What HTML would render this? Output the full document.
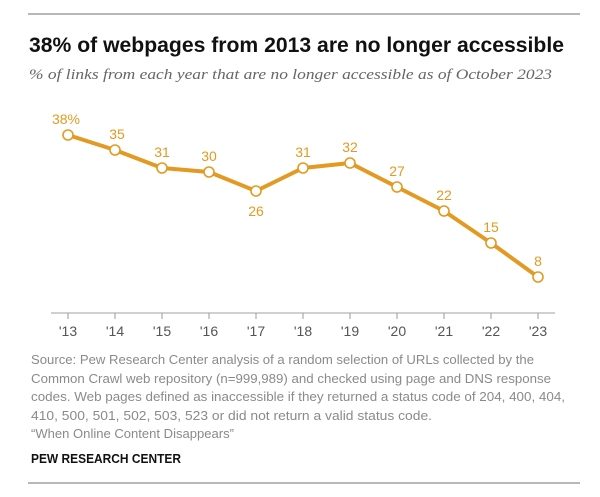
<!DOCTYPE html>
<html><head><meta charset="utf-8"><style>
html,body{margin:0;padding:0;background:#fff;}
svg{display:block;}
</style></head><body>
<svg width="600" height="497" viewBox="0 0 600 497" xmlns="http://www.w3.org/2000/svg">
<rect width="600" height="497" fill="#fff"/>
<line x1="28" y1="14" x2="580" y2="14" stroke="#a0a0a0" stroke-width="1.5"/>
<text x="29" y="52" font-family="Liberation Sans, sans-serif" font-weight="bold" font-size="21" fill="#111" textLength="535" lengthAdjust="spacingAndGlyphs">38% of webpages from 2013 are no longer accessible</text>
<text x="29" y="79" font-family="Liberation Serif, serif" font-style="italic" font-size="15" fill="#666" textLength="523" lengthAdjust="spacingAndGlyphs">% of links from each year that are no longer accessible as of October 2023</text>
<line x1="51" y1="313" x2="555" y2="313" stroke="#b5b5b5" stroke-width="1.2"/>
<g stroke="#999" stroke-width="1">
<line x1="68" y1="313" x2="68" y2="319"/><line x1="115" y1="313" x2="115" y2="319"/><line x1="162" y1="313" x2="162" y2="319"/><line x1="209" y1="313" x2="209" y2="319"/><line x1="256" y1="313" x2="256" y2="319"/><line x1="303" y1="313" x2="303" y2="319"/><line x1="350" y1="313" x2="350" y2="319"/><line x1="397" y1="313" x2="397" y2="319"/><line x1="444" y1="313" x2="444" y2="319"/><line x1="491" y1="313" x2="491" y2="319"/><line x1="538" y1="313" x2="538" y2="319"/>
</g>
<g font-family="Liberation Sans, sans-serif" font-size="14" fill="#555" text-anchor="middle">
<text x="68" y="336">'13</text><text x="115" y="336">'14</text><text x="162" y="336">'15</text><text x="209" y="336">'16</text><text x="256" y="336">'17</text><text x="303" y="336">'18</text><text x="350" y="336">'19</text><text x="397" y="336">'20</text><text x="444" y="336">'21</text><text x="491" y="336">'22</text><text x="538" y="336">'23</text>
</g>
<polyline points="68,135 115,150 162,168 209,172 256,191 303,168 350,163 397,187 444,211 491,243 538,277" fill="none" stroke="#e29a22" stroke-width="4" stroke-linejoin="round"/>
<g fill="#fff" stroke="#e29a22" stroke-width="1.6">
<circle cx="68" cy="135" r="5"/><circle cx="115" cy="150" r="5"/><circle cx="162" cy="168" r="5"/><circle cx="209" cy="172" r="5"/><circle cx="256" cy="191" r="5"/><circle cx="303" cy="168" r="5"/><circle cx="350" cy="163" r="5"/><circle cx="397" cy="187" r="5"/><circle cx="444" cy="211" r="5"/><circle cx="491" cy="243" r="5"/><circle cx="538" cy="277" r="5"/>
</g>
<g font-family="Liberation Sans, sans-serif" font-size="14" fill="#e29a22" text-anchor="middle">
<text x="66" y="124">38%</text><text x="117" y="139">35</text><text x="162" y="157">31</text><text x="209" y="161">30</text><text x="256" y="216">26</text><text x="303" y="157">31</text><text x="350" y="152">32</text><text x="397" y="176">27</text><text x="444" y="200">22</text><text x="491" y="232">15</text><text x="538" y="266">8</text>
</g>
<g font-family="Liberation Sans, sans-serif" font-size="13" fill="#8a8a8a">
<text x="31" y="364" textLength="503" lengthAdjust="spacingAndGlyphs">Source: Pew Research Center analysis of a random selection of URLs collected by the</text>
<text x="31" y="383" textLength="520" lengthAdjust="spacingAndGlyphs">Common Crawl web repository (n=999,989) and checked using page and DNS response</text>
<text x="31" y="401" textLength="534" lengthAdjust="spacingAndGlyphs">codes. Web pages defined as inaccessible if they returned a status code of 204, 400, 404,</text>
<text x="31" y="420" textLength="401" lengthAdjust="spacingAndGlyphs">410, 500, 501, 502, 503, 523 or did not return a valid status code.</text>
<text x="31" y="438" textLength="203" lengthAdjust="spacingAndGlyphs">“When Online Content Disappears”</text>
</g>
<text x="31" y="463" font-family="Liberation Sans, sans-serif" font-weight="bold" font-size="13" fill="#111" textLength="150" lengthAdjust="spacingAndGlyphs">PEW RESEARCH CENTER</text>
<line x1="28" y1="483" x2="580" y2="483" stroke="#a0a0a0" stroke-width="1.5"/>
</svg>
</body></html>
